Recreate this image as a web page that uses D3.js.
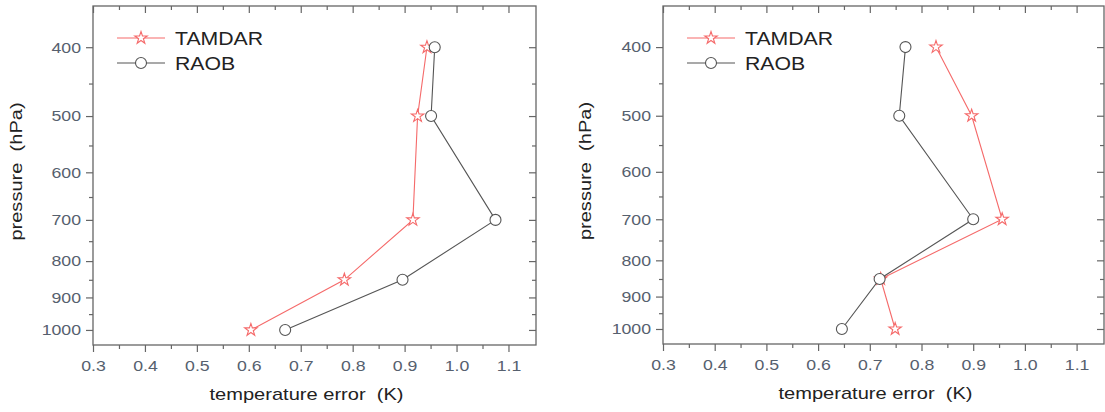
<!DOCTYPE html>
<html>
<head>
<meta charset="utf-8">
<script src="https://cdn.jsdelivr.net/npm/d3@7"></script>
<style>
  body { margin: 0; background: #fff; }
  svg text { font-family: "Liberation Sans", Arial, sans-serif; white-space: pre; }
</style>
</head>
<body>
<div id="chart"></div>
<script>
// Data
const pressureLevels = [400, 500, 700, 850, 1000];
const tamdarLeft  = [0.943, 0.925, 0.916, 0.784, 0.604];
const raobLeft    = [0.958, 0.951, 1.075, 0.896, 0.670];
const tamdarRight = [0.828, 0.897, 0.956, 0.721, 0.749];
const raobRight   = [0.769, 0.757, 0.900, 0.719, 0.646];
const xTickValues = [0.3, 0.4, 0.5, 0.6, 0.7, 0.8, 0.9, 1.0, 1.1];
const xMinorValues = [0.35, 0.45, 0.55, 0.65, 0.75, 0.85, 0.95, 1.05];
const yTickValues = [400, 500, 600, 700, 800, 900, 1000];
const yMinorValues = [450, 550, 650, 750, 850, 950];
const seriesNames = ["TAMDAR", "RAOB"];

const W = 1105, H = 412;
const tamdarColor = "#f56a6a";
const raobColor = "#555";
const frameColor = "#666";
const tickTextColor = "#56606e";

const svg = d3.select("#chart").append("svg")
    .attr("width", W)
    .attr("height", H);

const star = d3.symbol().type(d3.symbolStar).size(48);

function drawPanel(left, right, top, bottom, tamdar, raob, yLabelX) {
    const g = svg.append("g");

    const x = d3.scaleLinear().domain([0.3, 1.153]).range([left, right]);
    const y = d3.scaleLog().domain([350, 1050]).range([top, bottom]);

    // frame
    g.append("rect")
        .attr("x", left).attr("y", top)
        .attr("width", right - left).attr("height", bottom - top)
        .attr("fill", "none").attr("stroke", frameColor).attr("stroke-width", 1.3);

    // bottom axis (outward ticks)
    const xAxis = g.append("g")
        .attr("transform", `translate(0,${bottom})`)
        .call(d3.axisBottom(x).tickValues(xTickValues).tickFormat(d3.format(".1f")).tickSize(7).tickPadding(8));
    xAxis.append("g").call(d3.axisBottom(x).tickValues(xMinorValues).tickSize(4).tickFormat(""));

    // left axis (outward ticks)
    const yAxis = g.append("g")
        .attr("transform", `translate(${left},0)`)
        .call(d3.axisLeft(y).tickValues(yTickValues).tickFormat(d3.format("d")).tickSize(7).tickPadding(5));
    yAxis.append("g").call(d3.axisLeft(y).tickValues(yMinorValues).tickSize(4).tickFormat(""));

    // mirrored ticks on top and right, pointing inward
    g.append("g")
        .attr("transform", `translate(0,${top})`)
        .call(d3.axisBottom(x).tickValues(xTickValues).tickSize(7).tickFormat(""));
    g.append("g")
        .attr("transform", `translate(0,${top})`)
        .call(d3.axisBottom(x).tickValues(xMinorValues).tickSize(4).tickFormat(""));
    g.append("g")
        .attr("transform", `translate(${right},0)`)
        .call(d3.axisLeft(y).tickValues(yTickValues).tickSize(7).tickFormat(""));
    g.append("g")
        .attr("transform", `translate(${right},0)`)
        .call(d3.axisLeft(y).tickValues(yMinorValues).tickSize(4).tickFormat(""));

    g.selectAll(".domain").remove();
    g.selectAll(".tick line").attr("stroke", frameColor).attr("stroke-width", 1.2);
    g.selectAll(".tick text")
        .attr("fill", tickTextColor)
        .style("font-size", "15px")
        .attr("class", "stretch");

    // axis titles
    g.append("text")
        .attr("class", "stretch")
        .attr("x", (left + right) / 2 - 8)
        .attr("y", bottom + 55)
        .attr("text-anchor", "middle")
        .attr("fill", "#222")
        .style("font-size", "17px")
        .text("temperature error  (K)");

    g.append("text")
        .attr("class", "stretch")
        .attr("transform", `translate(${yLabelX},${(top + bottom) / 2 - 4}) rotate(-90)`)
        .attr("text-anchor", "middle")
        .attr("fill", "#222")
        .style("font-size", "17px")
        .text("pressure  (hPa)");

    const line = d3.line()
        .x(d => x(d.v))
        .y(d => y(d.p));

    const tData = pressureLevels.map((p, i) => ({p: p, v: tamdar[i]}));
    const rData = pressureLevels.map((p, i) => ({p: p, v: raob[i]}));

    // TAMDAR
    g.append("path").datum(tData)
        .attr("d", line)
        .attr("fill", "none").attr("stroke", tamdarColor).attr("stroke-width", 1.1);
    g.selectAll(".tstar").data(tData).enter().append("path")
        .attr("class", "tstar")
        .attr("transform", d => `translate(${x(d.v)},${y(d.p)})`)
        .attr("d", star)
        .attr("fill", "#fff").attr("stroke", tamdarColor).attr("stroke-width", 1.1);

    // RAOB
    g.append("path").datum(rData)
        .attr("d", line)
        .attr("fill", "none").attr("stroke", raobColor).attr("stroke-width", 1.1);
    g.selectAll(".rdot").data(rData).enter().append("circle")
        .attr("class", "rdot")
        .attr("cx", d => x(d.v))
        .attr("cy", d => y(d.p))
        .attr("r", 5.5)
        .attr("fill", "#fff").attr("stroke", raobColor).attr("stroke-width", 1.1);

    // legend
    const legendX = left + 24;
    const legendRows = [
        {name: seriesNames[0], color: tamdarColor, marker: "star", y: top + 32},
        {name: seriesNames[1], color: raobColor, marker: "circle", y: top + 57}
    ];
    legendRows.forEach(row => {
        const lg = g.append("g");
        lg.append("line")
            .attr("x1", legendX).attr("x2", legendX + 48)
            .attr("y1", row.y).attr("y2", row.y)
            .attr("stroke", row.color).attr("stroke-width", 1.1);
        if (row.marker === "star") {
            lg.append("path")
                .attr("transform", `translate(${legendX + 24},${row.y})`)
                .attr("d", star)
                .attr("fill", "#fff").attr("stroke", row.color).attr("stroke-width", 1.1);
        } else {
            lg.append("circle")
                .attr("cx", legendX + 24).attr("cy", row.y).attr("r", 5.5)
                .attr("fill", "#fff").attr("stroke", row.color).attr("stroke-width", 1.1);
        }
        lg.append("text")
            .attr("class", "stretch")
            .attr("x", legendX + 58)
            .attr("y", row.y + 7)
            .attr("fill", "#222")
            .style("font-size", "18px")
            .text(row.name);
    });
}

drawPanel(93, 536, 6, 345, tamdarLeft, raobLeft, 22);
drawPanel(663, 1104, 6, 344, tamdarRight, raobRight, 591);

// the source picture is a bit wider than tall in its lettering
svg.selectAll("text.stretch").each(function() {
    const len = this.getComputedTextLength();
    d3.select(this)
        .attr("textLength", len * 1.18)
        .attr("lengthAdjust", "spacingAndGlyphs");
});
</script>
</body>
</html>
